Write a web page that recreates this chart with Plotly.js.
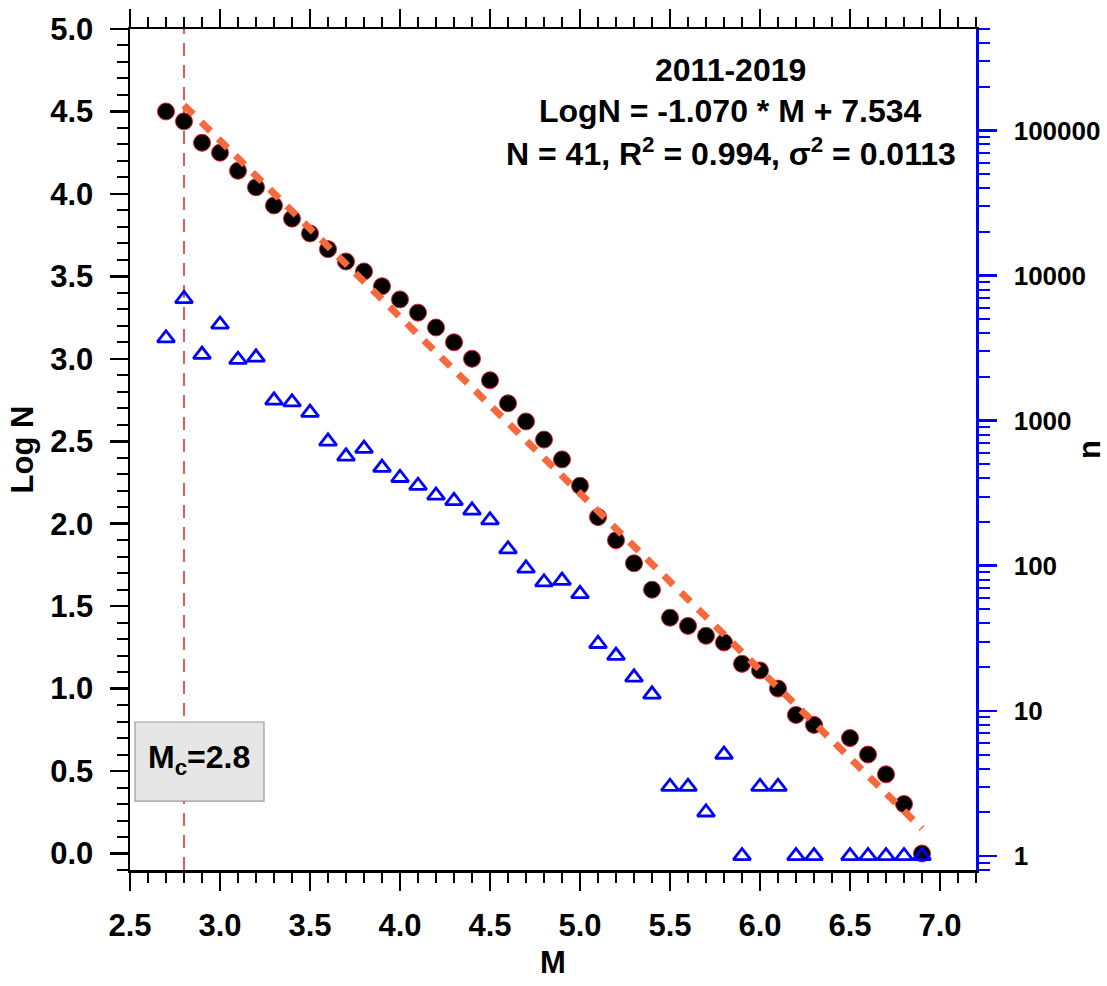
<!DOCTYPE html>
<html>
<head>
<meta charset="utf-8">
<script src="https://cdn.plot.ly/plotly-3.0.1.min.js"></script>
<style>
html,body{margin:0;padding:0;background:#fff;}
#chart{width:1107px;height:986px;}
</style>
</head>
<body>
<div id="chart"></div>
<script>
// Magnitude bins
const magnitudes = [2.7,2.8,2.9,3.0,3.1,3.2,3.3,3.4,3.5,3.6,3.7,3.8,3.9,4.0,4.1,4.2,4.3,4.4,4.5,4.6,4.7,4.8,4.9,5.0,5.1,5.2,5.3,5.4,5.5,5.6,5.7,5.8,5.9,6.0,6.1,6.2,6.3,6.5,6.6,6.7,6.8,6.9];
// Cumulative log N (black circles)
const logN = [4.50,4.44,4.31,4.25,4.14,4.04,3.93,3.85,3.76,3.665,3.59,3.53,3.44,3.36,3.28,3.19,3.10,3.00,2.87,2.73,2.62,2.51,2.39,2.23,2.04,1.90,1.76,1.60,1.43,1.38,1.32,1.28,1.15,1.11,1.00,0.84,0.78,0.70,0.60,0.48,0.30,0.00];
// Non-cumulative counts n (blue triangles, right log axis)
const countN = [3700,6900,2850,4600,2630,2730,1380,1340,1135,720,567,641,474,404,356,305,280,241,206,130,96,77,79,64,29,24,17,13,3,3,2,5,1,3,3,1,1,1,1,1,1,1];
// Gutenberg-Richter fit
const fitSlope = -1.070;
const fitIntercept = 7.534;
const fitRange = [2.8, 6.9];
const mc = 2.8;
// Text
const annoLines = ["2011-2019", "LogN = -1.070 * M + 7.534", "N = 41, R<sup>2</sup> = 0.994, σ<sup>2</sup> = 0.0113"];
const mcLabel = "M<sub>c</sub>=2.8";
// Right axis ticks
const nTickVals = [1,10,100,1000,10000,100000];
const nTickText = ["1","10","100","1000","10000","100000"];

const nMinor = [0.8,0.9];
for (let d = 1; d <= 100000; d *= 10) {
  for (let k = 2; k <= 9; k++) { const v = k*d; if (v <= 500000) nMinor.push(v); }
}

const FONT = "'Liberation Sans', Arial, sans-serif";
const fitX = fitRange.slice();
const fitY = fitRange.map(m => fitSlope*m + fitIntercept);

const traces = [
  {x: magnitudes, y: logN, type: 'scatter', mode: 'markers', xaxis: 'x', yaxis: 'y',
   marker: {symbol: 'circle', size: 17, color: '#000000', line: {color: '#E0202A', width: 1}}},
  {x: fitX, y: fitY, type: 'scatter', mode: 'lines', xaxis: 'x', yaxis: 'y',
   line: {color: '#F5693C', width: 7, dash: '13px,11px'}},
  {x: magnitudes, y: countN, type: 'scatter', mode: 'markers', xaxis: 'x', yaxis: 'y2',
   marker: {symbol: 'triangle-up-open', size: 15, color: '#0000FF', line: {color: '#0000FF', width: 2.8}}}
];

const tickFont = {family: FONT, size: 31, color: '#000', weight: 'bold'};
const titleFont = {family: FONT, size: 31, color: '#000', weight: 'bold'};
const annoFont = {family: FONT, size: 32, color: '#000', weight: 'bold'};

const layout = {
  width: 1107, height: 986,
  margin: {l: 130, r: 131, t: 29, b: 116},
  paper_bgcolor: '#fff', plot_bgcolor: '#fff',
  showlegend: false,
  xaxis: {
    range: [2.5, 7.2], tick0: 2.5, dtick: 0.5, tickformat: '.1f',
    showgrid: false, zeroline: false, showline: true, linecolor: '#000', linewidth: 2.5,
    ticks: 'outside', ticklen: 18, tickwidth: 2.5, tickcolor: '#000', mirror: 'ticks',
    minor: {dtick: 0.1, tick0: 2.5, ticks: 'outside', ticklen: 10, tickwidth: 2, tickcolor: '#000', showgrid: false},
    tickfont: tickFont, ticklabelstandoff: 8,
    title: {text: 'M', font: titleFont, standoff: 10}
  },
  yaxis: {
    range: [-0.1, 5.0], tick0: 0, dtick: 0.5, tickformat: '.1f',
    showgrid: false, zeroline: false, showline: true, linecolor: '#000', linewidth: 2.5,
    ticks: 'outside', ticklen: 18, tickwidth: 2.5, tickcolor: '#000',
    minor: {dtick: 0.1, tick0: 0, ticks: 'outside', ticklen: 11, tickwidth: 2, tickcolor: '#000', showgrid: false},
    tickfont: tickFont, ticklabelstandoff: 10,
    title: {text: 'Log N', font: titleFont, standoff: 8}
  },
  yaxis2: {
    type: 'log', overlaying: 'y', side: 'right', anchor: 'x',
    range: [Math.log10(0.8), Math.log10(500000)],
    tickmode: 'array', tickvals: nTickVals, ticktext: nTickText,
    showgrid: false, zeroline: false, showline: true, linecolor: '#0000FF', linewidth: 2.5,
    ticks: 'outside', ticklen: 18, tickwidth: 2.5, tickcolor: '#0000FF',
    minor: {tickmode: 'array', tickvals: nMinor, ticks: 'outside', ticklen: 11, tickwidth: 2, tickcolor: '#0000FF', showgrid: false},
    tickfont: {family: FONT, size: 26, color: '#000', weight: 'bold'}, ticklabelstandoff: 12,
    title: {text: 'n', font: titleFont, standoff: 12}
  },
  shapes: [
    {type: 'line', xref: 'x', yref: 'paper', x0: mc, x1: mc, y0: 0, y1: 1, layer: 'below',
     line: {color: '#E8202A', width: 1.5, dash: '13px,9px'}},
    {type: 'rect', xref: 'paper', yref: 'paper', x0: 0.0059, x1: 0.1584, y0: 0.082, y1: 0.176, layer: 'above',
     fillcolor: '#E6E6E6', line: {color: '#9A9A9A', width: 1.2}}
  ],
  annotations: [
    {text: annoLines[0], xref: 'paper', yref: 'paper', x: 0.710, y: 0.951, xanchor: 'center', yanchor: 'middle', showarrow: false, font: annoFont},
    {text: annoLines[1], xref: 'paper', yref: 'paper', x: 0.710, y: 0.9025, xanchor: 'center', yanchor: 'middle', showarrow: false, font: annoFont},
    {text: annoLines[2], xref: 'paper', yref: 'paper', x: 0.710, y: 0.854, xanchor: 'center', yanchor: 'middle', showarrow: false, font: annoFont},
    {text: mcLabel, xref: 'paper', yref: 'paper', x: 0.0816, y: 0.131, xanchor: 'center', yanchor: 'middle', showarrow: false, font: {family: FONT, size: 32, color: '#000', weight: 'bold'}}
  ]
};

Plotly.newPlot('chart', traces, layout, {displayModeBar: false, staticPlot: true});
</script>
</body>
</html>
